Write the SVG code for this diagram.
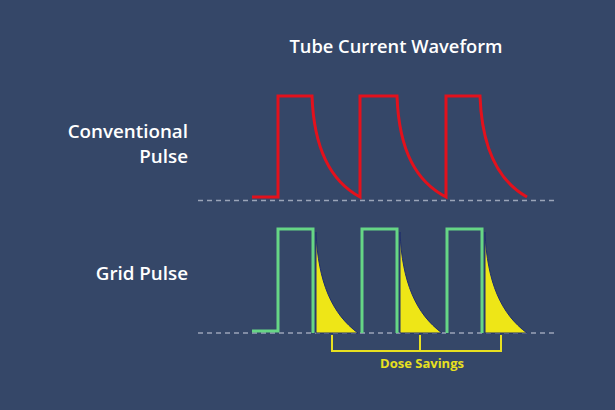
<svg xmlns="http://www.w3.org/2000/svg" width="615" height="410" viewBox="0 0 615 410">
<defs>
<style>
.lbl{font-family:"Open Sans","Liberation Sans",sans-serif;font-weight:600;fill:#ffffff}
.base{stroke:#9aa4b8;stroke-width:1.5;stroke-dasharray:5 4;fill:none}
.red{stroke:#e3111c;stroke-width:3;fill:none;stroke-linejoin:miter}
.green{stroke:#66d685;stroke-width:3;fill:none;stroke-linejoin:miter}
.save{fill:#eee617;stroke:#1f2f6e;stroke-width:1}
.brk{stroke:#e8e020;stroke-width:2;fill:none}
</style>
</defs>
<rect width="615" height="410" fill="#354768"/>
<g id="title"><text class="lbl" x="396" y="53" font-size="18.3" text-anchor="middle">Tube Current Waveform</text></g>
<g id="label-conventional"><text class="lbl" x="188" y="138" font-size="18.8" text-anchor="end">Conventional</text><text class="lbl" x="188" y="163" font-size="18.8" text-anchor="end">Pulse</text></g>
<g id="label-grid"><text class="lbl" x="188" y="280" font-size="18.8" text-anchor="end">Grid Pulse</text></g>
<g id="baselines">
<line class="base" x1="198" y1="200.5" x2="556" y2="200.5"/>
<line class="base" x1="198" y1="333" x2="556" y2="333"/>
</g>
<g id="conventional-waveform">
<path class="red" d="M252,197 H278 V96 H312 C314,152 332,182 360,197 V96 H397 C399,152 417,182 446,197 V96 H480 C482,152 500,182 527,197"/>
</g>
<g id="grid-waveform">
<path class="green" d="M252,331 H278 V229 H313 V333 M362,333 V229 H397 V333 M447,333 V229 H482 V333"/>
<path class="save" d="M316,232 C318,282 332,314 358,333 H316 Z"/>
<path class="save" d="M400,232 C402,282 416,314 442,333 H400 Z"/>
<path class="save" d="M485,232 C487,282 501,314 527,333 H485 Z"/>
</g>
<g id="dose-savings">
<path class="brk" d="M332,335 V351 H501 V335 M420,335 V351"/>
<text x="422" y="368" font-size="13" text-anchor="middle" style="font-family:'Open Sans','Liberation Sans',sans-serif;font-weight:700;fill:#e8e020">Dose Savings</text>
</g>
</svg>
